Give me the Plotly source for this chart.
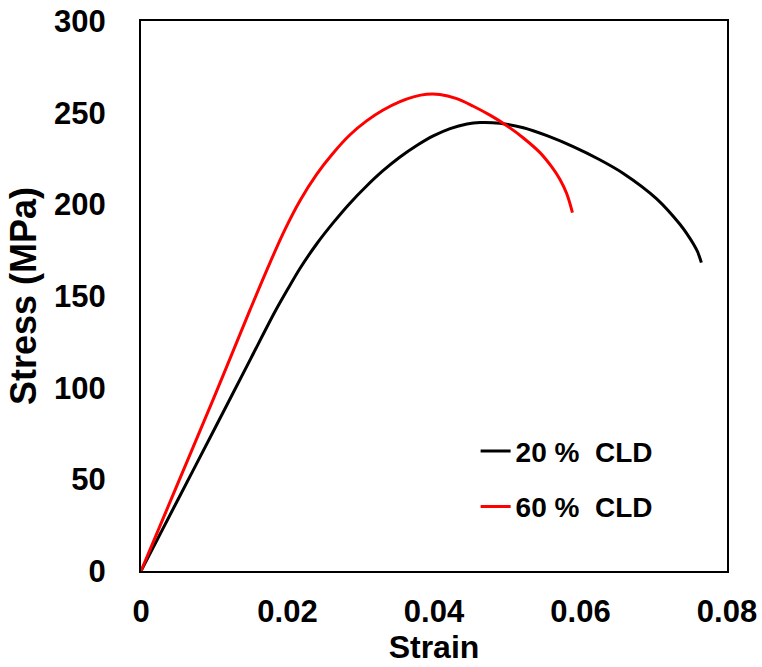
import plotly.graph_objects as go

# 20 % CLD (black)
strain_20 = [0, 0.0050, 0.0100, 0.0150, 0.0183, 0.0200, 0.0217, 0.0240, 0.02625, 0.0285,
             0.0308, 0.0330, 0.03536, 0.0377, 0.0399, 0.0422, 0.0445, 0.0463, 0.0490,
             0.0522, 0.0556, 0.0590, 0.0625, 0.0658, 0.0704, 0.0736, 0.0746, 0.0754,
             0.0760, 0.0765]
stress_20 = [0, 38.6, 77.2, 116, 141.5, 153.5, 165, 178.5, 190, 200.5,
             210, 218.2, 225.8, 232.2, 237.3, 241.3, 243.8, 244.6, 244.2,
             241.8, 237.2, 231.5, 224.6, 217, 203, 189, 183.5, 178.5,
             174, 168.2]

# 60 % CLD (red)
strain_60 = [0, 0.0050, 0.0100, 0.01488, 0.01716, 0.0195, 0.0217, 0.0240, 0.02625, 0.0285,
             0.0308, 0.0330, 0.03536, 0.0372, 0.0390, 0.0408, 0.0430, 0.04537, 0.0477,
             0.0499, 0.0522, 0.05447, 0.0560, 0.0572, 0.0581, 0.0589]
stress_60 = [0, 47.5, 95, 142.4, 164, 185, 202, 216.5, 228, 237.8,
             245.5, 251.3, 256, 258.6, 260, 259.9, 257.8, 253.5, 248.5,
             243, 236.2, 228.2, 220.8, 213.6, 206, 195.5]

x_ticks = [0, 0.02, 0.04, 0.06, 0.08]
x_tick_labels = ["0", "0.02", "0.04", "0.06", "0.08"]
y_ticks = [0, 50, 100, 150, 200, 250, 300]
y_tick_labels = ["0", "50", "100", "150", "200", "250", "300"]

FONT = "Arial, 'Liberation Sans', sans-serif"

fig = go.Figure()
fig.add_trace(go.Scatter(x=strain_20, y=stress_20, mode="lines", name="20 %\u00a0 CLD",
                         line=dict(color="black", width=3, shape="spline", smoothing=0.8),
                         legendgroup="a"))
fig.add_trace(go.Scatter(x=strain_60, y=stress_60, mode="lines", name="60 %\u00a0 CLD",
                         line=dict(color="#ff0000", width=3, shape="spline", smoothing=1.0),
                         legendgroup="b"))

axis_common = dict(showgrid=False, zeroline=False, showline=True, linecolor="black",
                   linewidth=2, mirror=True, ticks="", automargin=False,
                   tickfont=dict(family=FONT, size=31, color="black", weight="bold"))

fig.update_layout(
    width=762, height=667,
    margin=dict(l=141, r=35, t=21, b=96),
    paper_bgcolor="white", plot_bgcolor="white",
    font=dict(family=FONT, color="black"),
    xaxis=dict(range=[0, 0.08], tickvals=x_ticks, ticktext=x_tick_labels,
               title=dict(text="Strain", font=dict(family=FONT, size=32, weight="bold"), standoff=4),
               ticklabelstandoff=12, **axis_common),
    yaxis=dict(range=[0, 300], tickvals=y_ticks, ticktext=y_tick_labels,
               title=dict(text="Stress (MPa)", font=dict(family=FONT, size=36, weight="bold"), standoff=6),
               ticklabelstandoff=27, **axis_common),
    showlegend=True,
    legend=dict(x=0.571, y=0.263, xanchor="left", yanchor="top",
                bgcolor="rgba(0,0,0,0)", font=dict(family=FONT, size=28, weight="bold"),
                tracegroupgap=16, traceorder="grouped"),
)

fig.write_html("out.html")
